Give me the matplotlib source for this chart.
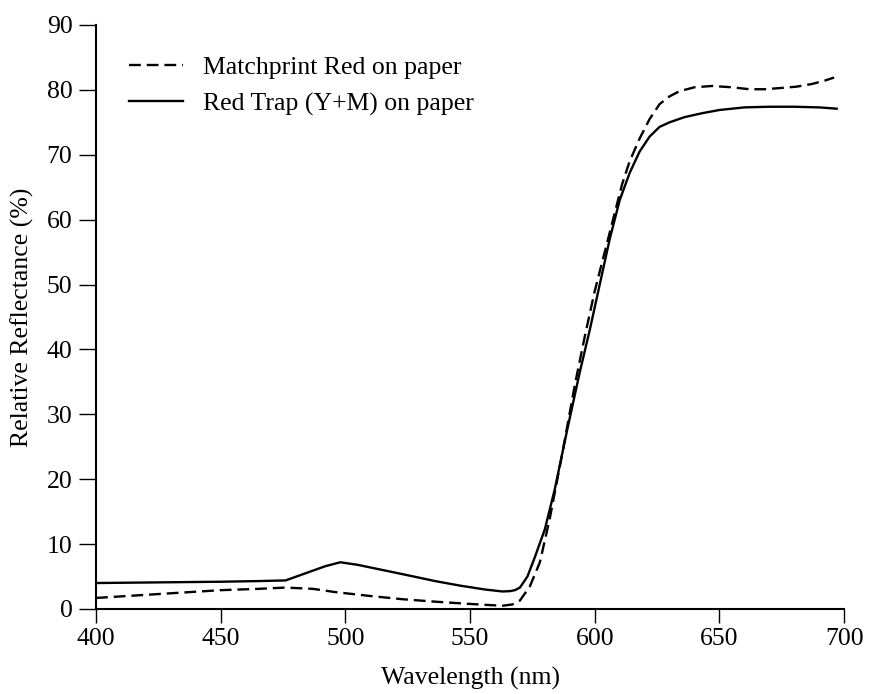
import matplotlib
matplotlib.use("Agg")
import matplotlib.pyplot as plt

# wavelength (nm) and reflectance (%)
match_nm = [400, 425, 450, 465, 476, 487, 496, 510, 523, 537, 549, 558, 563, 567,
            570, 574, 578, 582, 587, 592, 596, 600, 604, 608, 611, 614, 618, 622,
            626, 630, 634, 640, 647, 655, 662, 668, 675, 681, 687, 692, 696]
match_val = [1.7, 2.3, 2.9, 3.1, 3.3, 3.1, 2.6, 2.0, 1.5, 1.1, 0.8, 0.6, 0.5, 0.7,
             1.3, 3.5, 7.2, 14.0, 24.0, 34.5, 42.0, 49.0, 55.0, 61.0, 65.5, 69.0,
             72.5, 75.5, 77.8, 79.0, 79.8, 80.4, 80.6, 80.4, 80.1, 80.1, 80.3,
             80.5, 80.9, 81.4, 81.9]

trap_nm = [400, 425, 450, 465, 476, 484, 492, 498, 505, 515, 525, 536, 546, 556,
           563, 566, 568, 570, 573, 576, 580, 584, 589, 594, 598, 602, 606, 610,
           614, 618, 622, 626, 630, 636, 643, 650, 660, 670, 680, 690, 697]
trap_val = [4.0, 4.1, 4.2, 4.3, 4.4, 5.5, 6.6, 7.2, 6.8, 6.0, 5.2, 4.3, 3.6, 3.0,
            2.7, 2.75, 2.9, 3.3, 5.0, 8.0, 12.3, 18.5, 27.7, 36.5, 43.0, 50.0,
            57.0, 63.0, 67.2, 70.5, 72.8, 74.3, 75.0, 75.8, 76.4, 76.9, 77.3,
            77.4, 77.4, 77.3, 77.1]

series_labels = ["Matchprint Red on paper", "Red Trap (Y+M) on paper"]
x_ticks = [400, 450, 500, 550, 600, 650, 700]
y_ticks = [0, 10, 20, 30, 40, 50, 60, 70, 80, 90]

plt.rcParams['font.family'] = ['Liberation Serif', 'DejaVu Serif']
plt.rcParams['font.size'] = 18.5

fig = plt.figure(figsize=(8.76, 6.94), dpi=100)
ax = fig.add_axes([0.1096, 0.1225, 0.854, 0.8415])

ax.plot(match_nm, match_val, color='black', lw=1.7, ls=(0, (5, 2.5)),
        label=series_labels[0])
ax.plot(trap_nm, trap_val, color='black', lw=1.7, ls='-',
        label=series_labels[1])

ax.set_xlim(400, 700)
ax.set_ylim(0, 90)
ax.set_xticks(x_ticks)
ax.set_yticks(y_ticks)
ax.spines['top'].set_visible(False)
ax.spines['right'].set_visible(False)
ax.spines['left'].set_linewidth(1.5)
ax.spines['bottom'].set_linewidth(1.5)
ax.tick_params(axis='y', direction='out', length=12, width=1, pad=5)
ax.tick_params(axis='x', direction='out', length=10, width=1, pad=4)

ax.set_xlabel("Wavelength (nm)", labelpad=12)
ax.set_ylabel("Relative Reflectance (%)", labelpad=9)

ax.legend(loc='upper left', bbox_to_anchor=(0.03, 0.964), frameon=False,
          handlelength=2.1, handletextpad=0.8, labelspacing=0.5,
          borderaxespad=0)

fig.savefig("out.png", dpi=100)
